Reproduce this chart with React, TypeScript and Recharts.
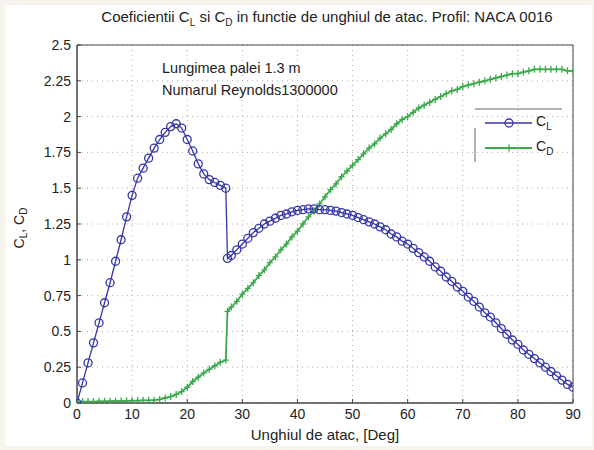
import React from "react";
import {
  LineChart,
  Line,
  XAxis,
  YAxis,
  CartesianGrid,
  ReferenceArea,
} from "recharts";

// unghiul de atac [deg]
const angles = [
  0, 1, 2, 3, 4, 5, 6, 7, 8, 9, 10, 11, 12, 13, 14, 15, 16, 17, 18, 19, 20,
  21, 22, 23, 24, 25, 26, 27, 27.3, 28, 29, 30, 31, 32, 33, 34, 35, 36, 37,
  38, 39, 40, 41, 42, 43, 44, 45, 46, 47, 48, 49, 50, 51, 52, 53, 54, 55, 56,
  57, 58, 59, 60, 61, 62, 63, 64, 65, 66, 67, 68, 69, 70, 71, 72, 73, 74, 75,
  76, 77, 78, 79, 80, 81, 82, 83, 84, 85, 86, 87, 88, 89, 90,
];

// coeficient de portanta
const cl = [
  0, 0.14, 0.28, 0.42, 0.56, 0.7, 0.84, 0.99, 1.14, 1.3, 1.45, 1.57, 1.64,
  1.71, 1.78, 1.84, 1.89, 1.93, 1.95, 1.92, 1.84, 1.76, 1.67, 1.6, 1.56, 1.54,
  1.52, 1.5, 1.01, 1.03, 1.07, 1.11, 1.15, 1.19, 1.22, 1.25, 1.27, 1.29, 1.31,
  1.32, 1.335, 1.345, 1.35, 1.355, 1.355, 1.35, 1.35, 1.345, 1.34, 1.33, 1.32,
  1.31, 1.295, 1.28, 1.265, 1.25, 1.23, 1.21, 1.18, 1.16, 1.13, 1.11, 1.08,
  1.05, 1.02, 0.99, 0.95, 0.92, 0.88, 0.85, 0.81, 0.78, 0.74, 0.71, 0.67,
  0.63, 0.6, 0.56, 0.52, 0.48, 0.44, 0.41, 0.37, 0.34, 0.31, 0.28, 0.25, 0.22,
  0.19, 0.16, 0.13, 0.11,
];

// coeficient de rezistenta
const cd = [
  0.01, 0.01, 0.01, 0.01, 0.012, 0.012, 0.013, 0.013, 0.014, 0.015, 0.016,
  0.017, 0.018, 0.019, 0.02, 0.025, 0.035, 0.045, 0.06, 0.08, 0.11, 0.15,
  0.18, 0.21, 0.235, 0.26, 0.285, 0.3, 0.64, 0.67, 0.71, 0.76, 0.8, 0.84,
  0.89, 0.93, 0.98, 1.02, 1.07, 1.11, 1.16, 1.2, 1.25, 1.3, 1.34, 1.39, 1.44,
  1.49, 1.53, 1.58, 1.62, 1.66, 1.7, 1.74, 1.78, 1.81, 1.85, 1.88, 1.91, 1.95,
  1.98, 2.0, 2.03, 2.06, 2.08, 2.1, 2.12, 2.14, 2.16, 2.18, 2.19, 2.21, 2.22,
  2.23, 2.24, 2.25, 2.26, 2.27, 2.28, 2.29, 2.3, 2.3, 2.31, 2.32, 2.33, 2.33,
  2.33, 2.33, 2.33, 2.33, 2.32, 2.32,
];

const xTicks = [0, 10, 20, 30, 40, 50, 60, 70, 80, 90];
const yTicks = [0, 0.25, 0.5, 0.75, 1, 1.25, 1.5, 1.75, 2, 2.25, 2.5];

const data = angles.map((a, i) => ({ alpha: a, cl: cl[i], cd: cd[i] }));

const BLUE = "#3535aa";
const GREEN = "#3caa4c";
const FONT = "'Liberation Sans', Arial, sans-serif";

const PlusDot = (props: any) => {
  const { cx, cy, index } = props;
  if (cx == null || cy == null) return <g key={index} />;
  return (
    <path
      key={index}
      d={`M${cx - 3},${cy}H${cx + 3}M${cx},${cy - 3.5}V${cy + 3.5}`}
      stroke={GREEN}
      strokeWidth={1.3}
    />
  );
};

const tickStyle = { fill: "#222", fontSize: 14, fontFamily: FONT };

export default function App() {
  return (
    <div
      style={{
        position: "absolute",
        left: 0,
        top: 0,
        width: 594,
        height: 450,
        background: "#f7f3ed",
        fontFamily: FONT,
        color: "#222",
      }}
    >
      <div
        style={{
          position: "absolute",
          left: 5,
          top: 5,
          width: 587,
          height: 441,
          background: "#fff",
        }}
      />
      <div style={{ position: "absolute", left: 0, top: 0 }}>
        <LineChart
          width={594}
          height={450}
          data={data}
          margin={{ top: 45, right: 21, bottom: 17, left: 17 }}
        >
          <CartesianGrid
            stroke="#b0b0b0"
            strokeDasharray="1 4"
            horizontalValues={yTicks}
            verticalValues={xTicks}
          />
          <XAxis
            dataKey="alpha"
            type="number"
            domain={[0, 90]}
            ticks={xTicks}
            height={30}
            tick={tickStyle}
            tickSize={-4}
            tickMargin={10}
            stroke="#444"
            allowDataOverflow
          />
          <YAxis
            type="number"
            domain={[0, 2.5]}
            ticks={yTicks}
            width={60}
            tick={tickStyle}
            tickSize={-4}
            tickMargin={10}
            stroke="#444"
            allowDataOverflow
          />
          <ReferenceArea
            x1={0}
            x2={90}
            y1={0}
            y2={2.5}
            fill="none"
            stroke="#444"
            strokeWidth={1}
            ifOverflow="visible"
          />
          <Line
            dataKey="cd"
            stroke={GREEN}
            strokeWidth={1.8}
            dot={PlusDot}
            isAnimationActive={false}
          />
          <Line
            dataKey="cl"
            stroke={BLUE}
            strokeWidth={1.3}
            dot={{ r: 4, stroke: BLUE, strokeWidth: 1.3, fill: "none" }}
            isAnimationActive={false}
          />
        </LineChart>
      </div>

      {/* titlu */}
      <div
        style={{
          position: "absolute",
          left: 0,
          width: 654,
          top: 8,
          textAlign: "center",
          fontSize: 15,
          whiteSpace: "nowrap",
        }}
      >
        Coeficientii C<sub style={{ fontSize: 10 }}>L</sub> si C
        <sub style={{ fontSize: 10 }}>D</sub> in functie de unghiul de atac.
        Profil: NACA 0016
      </div>

      {/* text pe grafic */}
      <div
        style={{
          position: "absolute",
          left: 162,
          top: 57,
          fontSize: 14.5,
          lineHeight: "22px",
          whiteSpace: "nowrap",
        }}
      >
        <div>Lungimea palei 1.3 m</div>
        <div>Numarul Reynolds1300000</div>
      </div>

      {/* eticheta axa y */}
      <div
        style={{
          position: "absolute",
          left: 20,
          top: 228,
          fontSize: 14,
          whiteSpace: "nowrap",
          transform: "translate(-50%, -50%) rotate(-90deg)",
        }}
      >
        C<sub style={{ fontSize: 10 }}>L</sub>, C
        <sub style={{ fontSize: 10 }}>D</sub>
      </div>

      {/* eticheta axa x */}
      <div
        style={{
          position: "absolute",
          left: 325,
          top: 426,
          fontSize: 15,
          whiteSpace: "nowrap",
          transform: "translateX(-50%)",
        }}
      >
        Unghiul de atac, [Deg]
      </div>

      {/* legenda */}
      <svg
        style={{ position: "absolute", left: 470, top: 104 }}
        width={100}
        height={62}
      >
        <line x1={5} y1={5} x2={92} y2={5} stroke="#666" />
        <line x1={5} y1={24} x2={5} y2={58} stroke="#666" />
        <line x1={15} y1={19} x2={62} y2={19} stroke={BLUE} strokeWidth={1.3} />
        <circle cx={39} cy={19} r={4} stroke={BLUE} strokeWidth={1.3} fill="none" />
        <line x1={15} y1={44} x2={62} y2={44} stroke={GREEN} strokeWidth={1.8} />
        <path d="M36,44H42M39,40.5V47.5" stroke={GREEN} strokeWidth={1.3} />
        <text x={66} y={22} fontSize={14} fill="#222" fontFamily={FONT}>
          C<tspan fontSize={10} dy={4}>L</tspan>
        </text>
        <text x={66} y={47} fontSize={14} fill="#222" fontFamily={FONT}>
          C<tspan fontSize={10} dy={4}>D</tspan>
        </text>
      </svg>
    </div>
  );
}
